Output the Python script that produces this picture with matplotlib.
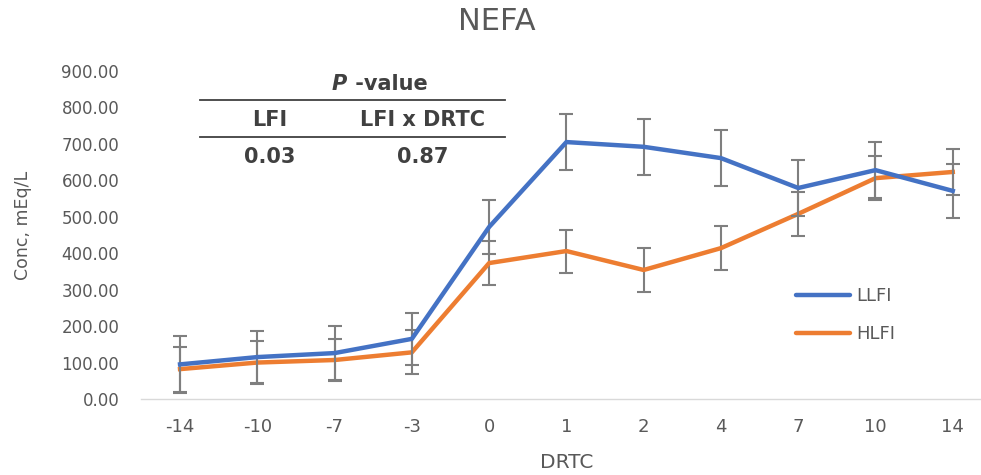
import matplotlib
matplotlib.use("Agg")
import matplotlib.pyplot as plt
from matplotlib.lines import Line2D
import numpy as np

plt.rcParams['font.family'] = ['DejaVu Sans']

categories = ["-14", "-10", "-7", "-3", "0", "1", "2", "4", "7", "10", "14"]
llfi = [95, 115, 126, 165, 472, 705, 692, 661, 579, 628, 571]
llfi_err = [78, 72, 75, 71, 75, 77, 77, 76, 77, 77, 73]
hlfi = [82, 100, 107, 128, 373, 406, 354, 414, 508, 606, 623]
hlfi_err = [62, 60, 58, 60, 60, 59, 60, 60, 60, 60, 62]
yticks = [0, 100, 200, 300, 400, 500, 600, 700, 800, 900]

blue = "#4472C4"
orange = "#ED7D31"
grey = "#595959"

fig = plt.figure(figsize=(9.81, 4.75), dpi=100)
ax = fig.add_axes([141.4/981, 76/475, 850/981, 328/475])
x = np.arange(len(categories))

ax.errorbar(x, llfi, yerr=llfi_err, color=blue, lw=3.2, ecolor="#7f7f7f",
            elinewidth=1.5, capsize=5, capthick=1.5, zorder=3)
ax.errorbar(x, hlfi, yerr=hlfi_err, color=orange, lw=3.2, ecolor="#7f7f7f",
            elinewidth=1.5, capsize=5, capthick=1.5, zorder=2)

ax.set_xlim(-0.5, len(categories) - 0.5)
ax.set_ylim(0, 900)
ax.set_xticks(x)
ax.set_xticklabels(categories)
ax.set_yticks(yticks)
ax.set_yticklabels([f"{v:.2f}" for v in yticks])
ax.tick_params(axis='both', length=0, colors=grey)
ax.tick_params(axis='x', pad=14, labelsize=13)
ax.tick_params(axis='y', pad=16, labelsize=12)
for s in ["top", "right", "left"]:
    ax.spines[s].set_visible(False)
ax.spines["bottom"].set_color("#d9d9d9")
ax.spines["bottom"].set_linewidth(1)

ax.set_ylabel("Conc, mEq/L", fontsize=12.5, color=grey, va="center")
ax.yaxis.set_label_coords((23 - 141.4)/850, (399 - 225)/328)
ax.set_xlabel("DRTC", fontsize=14.5, color=grey, va="center")
ax.xaxis.set_label_coords(0.5, (399 - 462)/328)
fig.text(497/981, 1 - 21/475, "NEFA", ha="center", va="center", fontsize=22, color=grey)

handles = [Line2D([], [], color=blue, lw=3.2, solid_capstyle="round"),
           Line2D([], [], color=orange, lw=3.2, solid_capstyle="round")]
leg = ax.legend(handles, ["LLFI", "HLFI"], loc="upper left",
                bbox_to_anchor=((780-141.4)/850, (399-271)/328),
                frameon=False, fontsize=13, handlelength=3.0, labelspacing=1.1,
                handletextpad=0.3)
for t in leg.get_texts():
    t.set_color(grey)

# p-value table
tc = "#404040"
fs = 15
fig.text(348/981, 1 - 84/475, r"$\bfit{P}$", ha="right", va="center", fontsize=fs, color=tc)
fig.text(348/981, 1 - 84/475, " -value", ha="left", va="center", fontsize=fs, color=tc, fontweight="bold")
fig.add_artist(Line2D([200/981, 505/981], [1 - 100/475, 1 - 100/475], color="#404040", lw=1.3))
fig.add_artist(Line2D([200/981, 505/981], [1 - 137/475, 1 - 137/475], color="#404040", lw=1.3))
fig.text(270/981, 1 - 120/475, "LFI", ha="center", va="center", fontsize=fs, color=tc, fontweight="bold")
fig.text(423/981, 1 - 120/475, "LFI x DRTC", ha="center", va="center", fontsize=fs, color=tc, fontweight="bold")
fig.text(270/981, 1 - 157/475, "0.03", ha="center", va="center", fontsize=fs, color=tc, fontweight="bold")
fig.text(423/981, 1 - 157/475, "0.87", ha="center", va="center", fontsize=fs, color=tc, fontweight="bold")

fig.savefig("out.png", dpi=100)
